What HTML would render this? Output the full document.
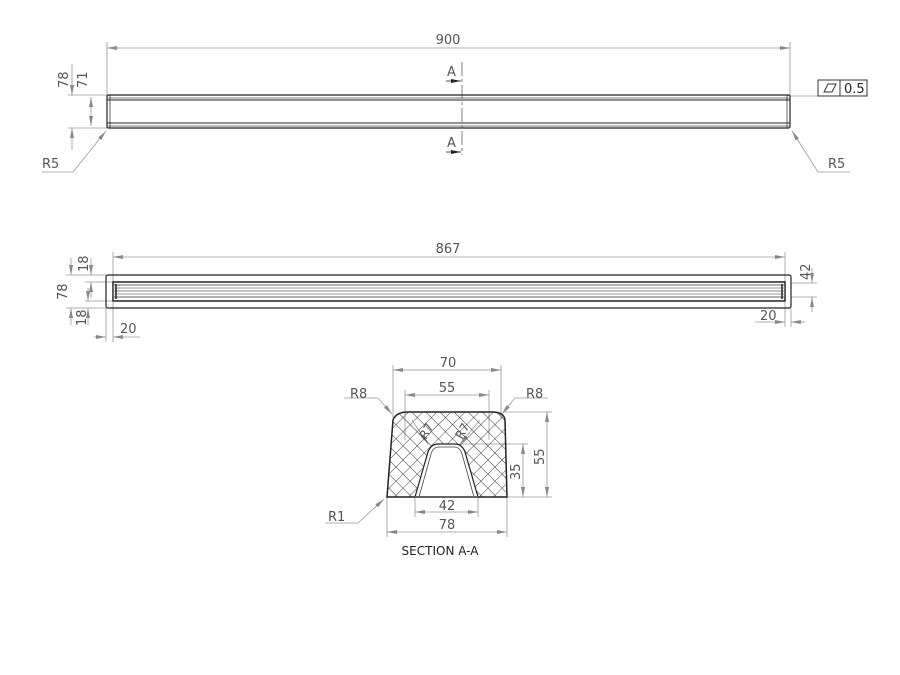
<!DOCTYPE html>
<html><head><meta charset="utf-8"><style>
html,body{margin:0;padding:0;background:#fff;}
svg{display:block;}
text{font-family:"DejaVu Sans","Liberation Sans",sans-serif;fill:#555;font-size:13px;}
</style></head><body>
<svg width="900" height="675" viewBox="0 0 900 675" xmlns="http://www.w3.org/2000/svg">
<defs>
<marker id="a" viewBox="0 0 10 6" refX="10" refY="3" markerWidth="10" markerHeight="6" orient="auto-start-reverse" markerUnits="userSpaceOnUse"><path d="M0,1 L10,3 L0,5 z" fill="#888"/></marker>
<marker id="b" viewBox="0 0 10 6" refX="10" refY="3" markerWidth="12" markerHeight="6" orient="auto" markerUnits="userSpaceOnUse"><path d="M0,1 L10,3 L0,5 z" fill="#222"/></marker>
<pattern id="h" width="10" height="10" patternUnits="userSpaceOnUse" patternTransform="rotate(45)">
<path d="M0,0 H10 M0,0 V10" stroke="#333" stroke-width="0.9" fill="none"/></pattern>
<clipPath id="cp"><path d="M387,497 L393,420 Q396,412 408,412 L492,412 Q504,412 505,420 L507,497 Z"/></clipPath>
</defs>
<g stroke="#999" stroke-width="0.8" fill="none">
<line x1="107" y1="42" x2="107" y2="95"/><line x1="790" y1="42" x2="790" y2="95"/>
<line x1="107" y1="48" x2="790" y2="48" marker-start="url(#a)" marker-end="url(#a)"/>
<line x1="68" y1="95" x2="107" y2="95"/><line x1="68" y1="128" x2="107" y2="128"/>
<line x1="72" y1="64" x2="72" y2="95" marker-end="url(#a)"/><line x1="72" y1="150" x2="72" y2="128" marker-end="url(#a)"/>
<line x1="91" y1="97" x2="91" y2="126" marker-start="url(#a)" marker-end="url(#a)"/>
<line x1="790" y1="96" x2="818" y2="96"/>
<polyline points="42,172 73,172 106,131" marker-end="url(#a)"/>
<polyline points="850,172 818,172 792,131" marker-end="url(#a)"/>
<line x1="462" y1="62" x2="462" y2="155" stroke-dasharray="14,3,3,3" stroke="#aaa" stroke-width="1.5"/>
<line x1="113" y1="252" x2="113" y2="282"/><line x1="785" y1="252" x2="785" y2="282"/>
<line x1="113" y1="257" x2="785" y2="257" marker-start="url(#a)" marker-end="url(#a)"/>
<line x1="66" y1="275" x2="106" y2="275"/><line x1="66" y1="308" x2="106" y2="308"/>
<line x1="85" y1="282" x2="113" y2="282"/><line x1="85" y1="301" x2="113" y2="301"/>
<line x1="71" y1="258" x2="71" y2="275" marker-end="url(#a)"/><line x1="71" y1="325" x2="71" y2="308" marker-end="url(#a)"/>
<line x1="91" y1="258" x2="91" y2="275" marker-end="url(#a)"/><line x1="91" y1="298" x2="91" y2="282" marker-end="url(#a)"/>
<line x1="88" y1="288" x2="88" y2="301" marker-end="url(#a)"/><line x1="88" y1="325" x2="88" y2="308" marker-end="url(#a)"/>
<line x1="106" y1="308" x2="106" y2="342"/><line x1="113" y1="302" x2="113" y2="342"/>
<line x1="94" y1="337" x2="106" y2="337" marker-end="url(#a)"/><line x1="140" y1="337" x2="113" y2="337" marker-end="url(#a)"/>
<line x1="785" y1="302" x2="785" y2="327"/><line x1="791" y1="308" x2="791" y2="327"/>
<line x1="755" y1="322" x2="785" y2="322" marker-end="url(#a)"/><line x1="805" y1="322" x2="791" y2="322" marker-end="url(#a)"/>
<line x1="791" y1="283" x2="817" y2="283"/><line x1="791" y1="297" x2="817" y2="297"/>
<line x1="812" y1="268" x2="812" y2="283" marker-end="url(#a)"/><line x1="812" y1="312" x2="812" y2="297" marker-end="url(#a)"/>
<line x1="393" y1="365" x2="393" y2="418"/><line x1="501" y1="365" x2="501" y2="418"/>
<line x1="393" y1="370" x2="501" y2="370" marker-start="url(#a)" marker-end="url(#a)"/>
<line x1="405" y1="390" x2="405" y2="440"/><line x1="489" y1="390" x2="489" y2="440"/>
<line x1="405" y1="395" x2="489" y2="395" marker-start="url(#a)" marker-end="url(#a)"/>
<line x1="505" y1="412" x2="552" y2="412"/><line x1="508" y1="497" x2="552" y2="497"/>
<line x1="547" y1="412" x2="547" y2="497" marker-start="url(#a)" marker-end="url(#a)"/>
<line x1="457" y1="444" x2="528" y2="444"/>
<line x1="523" y1="444" x2="523" y2="497" marker-start="url(#a)" marker-end="url(#a)"/>
<line x1="415" y1="497" x2="415" y2="517"/><line x1="478" y1="497" x2="478" y2="517"/>
<line x1="415" y1="512" x2="478" y2="512" marker-start="url(#a)" marker-end="url(#a)"/>
<line x1="387" y1="497" x2="387" y2="537"/><line x1="507" y1="497" x2="507" y2="537"/>
<line x1="387" y1="532" x2="507" y2="532" marker-start="url(#a)" marker-end="url(#a)"/>
<polyline points="344,398 378,398 392,414" marker-end="url(#a)"/>
<polyline points="548,398 515,398 502,414" marker-end="url(#a)"/>
<polyline points="325,523 358,523 384,499" marker-end="url(#a)"/>
<line x1="412" y1="420" x2="428" y2="444" marker-end="url(#a)"/>
<line x1="480" y1="420" x2="460" y2="444" marker-end="url(#a)"/>
</g>
<g fill="none" stroke="#222">
<rect x="107" y="95" width="683" height="33" rx="1.5" stroke-width="1.2"/>
<line x1="107" y1="98" x2="790" y2="98" stroke="#777"/>
<line x1="107" y1="100" x2="790" y2="100"/>
<line x1="107" y1="123" x2="790" y2="123"/>
<line x1="107" y1="126" x2="790" y2="126" stroke="#777"/>
<line x1="110" y1="95" x2="110" y2="128" stroke-width="0.7"/>
<line x1="787" y1="95" x2="787" y2="128" stroke-width="0.7"/>
</g>
<line x1="446" y1="81" x2="461" y2="81" stroke="#555" marker-end="url(#b)"/>
<line x1="446" y1="152" x2="461" y2="152" stroke="#555" marker-end="url(#b)"/>
<text x="447" y="76">A</text><text x="447" y="147">A</text>
<text x="448" y="44" text-anchor="middle">900</text>
<text transform="translate(68,88) rotate(-90)">78</text>
<text transform="translate(87,88) rotate(-90)">71</text>
<text x="42" y="168">R5</text><text x="828" y="168">R5</text>
<rect x="818" y="80" width="22" height="16" fill="none" stroke="#333"/>
<rect x="840" y="80" width="27" height="16" fill="none" stroke="#333"/>
<path d="M824,92 L828,84 L836,84 L832,92 Z" fill="none" stroke="#333"/>
<text x="844" y="93" style="fill:#222">0.5</text>
<g fill="none" stroke="#222">
<rect x="106" y="275" width="685" height="33" rx="2" stroke-width="1.2"/>
<rect x="113" y="282" width="672" height="19" stroke-width="1.5"/>
<line x1="113" y1="285" x2="785" y2="285" stroke="#666"/>
<line x1="113" y1="288" x2="785" y2="288" stroke="#999"/>
<line x1="113" y1="291" x2="785" y2="291" stroke="#888"/>
<line x1="113" y1="294" x2="785" y2="294" stroke="#999"/>
<line x1="113" y1="297" x2="785" y2="297" stroke="#666"/>
<line x1="116" y1="284" x2="116" y2="299" stroke-width="1.5"/>
<line x1="782" y1="284" x2="782" y2="299" stroke-width="1.5"/>
</g>
<text x="448" y="253" text-anchor="middle">867</text>
<text transform="translate(67,300) rotate(-90)">78</text>
<text transform="translate(88,272) rotate(-90)">18</text>
<text transform="translate(86,326) rotate(-90)">18</text>
<text transform="translate(810,280) rotate(-90)">42</text>
<text x="120" y="333">20</text><text x="760" y="320">20</text>
<g clip-path="url(#cp)"><rect x="380" y="405" width="135" height="95" fill="url(#h)"/></g>
<path d="M415,497 L428,452 Q431,444 438,444 L455,444 Q462,444 465,452 L478,497 Z" fill="#fff" stroke="#222" stroke-width="1.2"/>
<path d="M419,497 L431,454 Q433,447 439,447 L454,447 Q460,447 462,454 L474,497" fill="none" stroke="#444" stroke-width="0.8"/>
<path d="M387,497 L393,420 Q396,412 408,412 L492,412 Q504,412 505,420 L507,497 Z" fill="none" stroke="#222" stroke-width="1.5"/>
<line x1="415" y1="497" x2="478" y2="497" stroke="#666" stroke-width="2"/>
<text x="448" y="367" text-anchor="middle">70</text>
<text x="447" y="392" text-anchor="middle">55</text>
<text x="447" y="510" text-anchor="middle">42</text>
<text x="447" y="529" text-anchor="middle">78</text>
<text transform="translate(544,465) rotate(-90)">55</text>
<text transform="translate(520,480) rotate(-90)">35</text>
<text x="350" y="398">R8</text><text x="526" y="398">R8</text>
<text x="328" y="521">R1</text>
<text transform="translate(426,440) rotate(-60)" style="font-size:12px">R7</text>
<text transform="translate(462,440) rotate(-60)" style="font-size:12px">R7</text>
<text x="440" y="555" text-anchor="middle" style="fill:#222;font-size:12px">SECTION A-A</text>
</svg>
</body></html>
